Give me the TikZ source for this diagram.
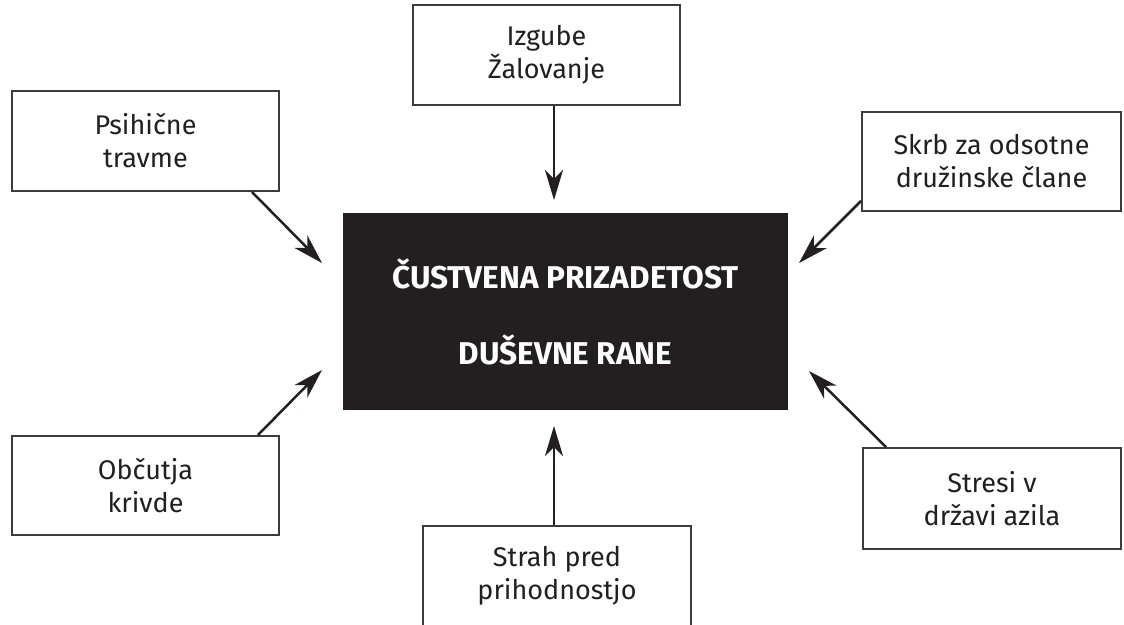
\documentclass[tikz,border=0pt]{standalone}
\usepackage{fontspec}
\setmainfont{Fira Sans}
\usetikzlibrary{arrows.meta,calc}
\definecolor{ink}{HTML}{231F20}
\definecolor{edge}{HTML}{3C3C3C}
\begin{document}
\begin{tikzpicture}[x=1pt,y=-1pt,
  box/.style={draw=edge,line width=2pt,fill=white,minimum width=#1,inner sep=0pt,
    align=center,text=ink,font=\fontsize{27}{33}\selectfont},
  box/.default=267pt,
  core/.style={fill=ink,minimum width=445pt,minimum height=197pt,inner sep=0pt,
    align=center,text=white,font=\bfseries\fontsize{31.5}{76}\selectfont},
  arr/.style={draw=ink,line width=2.5pt,-{Stealth[length=30pt,width=18pt,inset=9pt]}}]
\useasboundingbox (0,0) rectangle (1124,624);
\clip (0,0) rectangle (1124,624);
\node[core] (c) at (565.5,311.5) {ČUSTVENA PRIZADETOST\\DUŠEVNE RANE};
\node[box,minimum height=100pt] (psi) at (145.5,141) {Psihične\\travme};
\node[box,minimum height=100pt] (izg) at (546.5,55) {Izgube\\Žalovanje};
\node[box=259pt,minimum height=99pt] (skr) at (991.5,161.5) {Skrb za odsotne\\družinske člane};
\node[box,minimum height=99pt] (obc) at (145.5,485.5) {Občutja\\krivde};
\node[box=268pt,minimum height=100pt] (str) at (557,576) {Strah pred\\prihodnostjo};
\node[box=258pt,minimum height=101pt] (sts) at (992,498.5) {Stresi v\\državi azila};
\coordinate (t1) at (322,263);
\coordinate (t2) at (554,200);
\coordinate (t3) at (799,263);
\coordinate (t4) at (322,370);
\coordinate (t5) at (554,426);
\coordinate (t6) at (809,371);
\draw[arr] ($(psi.south east)+(-28,0)$) -- (t1);
\draw[arr] (izg.south -| t2) -- (t2);
\draw[arr] ($(skr.south west)+(0,-11)$) -- (t3);
\draw[arr] ($(obc.north east)+(-22,0)$) -- (t4);
\draw[arr] (str.north -| t5) -- (t5);
\draw[arr] ($(sts.north west)+(24,0)$) -- (t6);
\end{tikzpicture}
\end{document}
